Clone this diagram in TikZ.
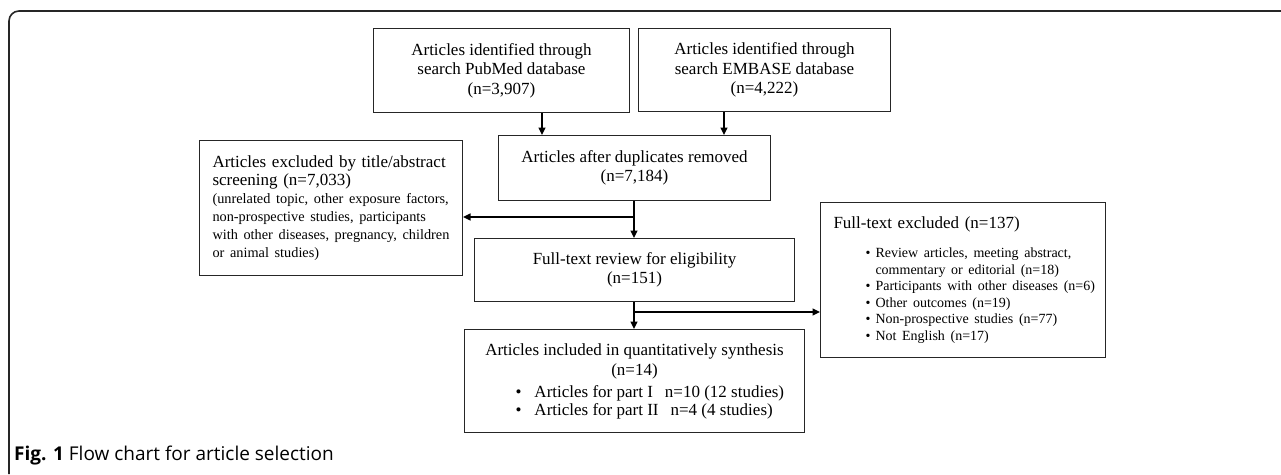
\documentclass[tikz,border=0pt]{standalone}
\usepackage{fontspec}
\setmainfont{Liberation Serif}
\newfontfamily\capfont{Open Sans}
\usetikzlibrary{arrows.meta}
\begin{document}
\begin{tikzpicture}[x=1pt,y=-1pt,
  box/.style={draw=black!85, line width=1pt, inner sep=0pt, anchor=north west, align=center,
    font=\fontsize{17}{19.5}\selectfont},
  lbox/.style={box, align=left, inner xsep=13pt},
  arr/.style={draw=black, line width=1.3pt, -{Triangle[length=7.5pt,width=7pt]}},
  frame/.style={draw=black!85, line width=1.6pt, rounded corners=10pt}]
\useasboundingbox (0,0) rectangle (1281,474);
% frame
\draw[frame] (9,474) -- (9,11) -- (1281,11);
% boxes
\node[box, minimum width=256pt, minimum height=84pt] (pub) at (373,28)
  {Articles identified through\\search PubMed database\\(n=3,907)};
\node[box, minimum width=252pt, minimum height=83pt] (emb) at (638,28)
  {Articles identified through\\search EMBASE database\\(n=4,222)};
\node[box, minimum width=272pt, minimum height=65pt] (dup) at (498,135)
  {Articles after duplicates removed\\(n=7,184)};
\node[lbox, text width=237pt, minimum height=135pt] (excl) at (199,140)
  {\fontsize{17}{18}\selectfont Articles excluded by title/abstract\\screening (n=7,033)\par
   \fontsize{14.3}{18}\selectfont \mbox{(unrelated topic, other exposure factors,}\\
   \mbox{non-prospective studies, participants}\\
   \mbox{with other diseases, pregnancy, children}\\
   \mbox{or animal studies)}\par};
\node[box, minimum width=320pt, minimum height=63pt] (ftr) at (474,238)
  {Full-text review for eligibility\\(n=151)};
\node[box, minimum width=340pt, minimum height=103pt, font=\fontsize{17}{20}\selectfont] (inc) at (464,329)
  {Articles included in quantitatively synthesis\\(n=14)\\[2pt]
   \makebox[340pt][l]{\hspace*{51pt}\makebox[19pt][l]{\textbullet}Articles for part I\hspace{12pt}n=10 (12 studies)}\\[-2pt]
   \makebox[340pt][l]{\hspace*{51pt}\makebox[19pt][l]{\textbullet}Articles for part II\hspace{12pt}n=4 (4 studies)}};
\node[lbox, text width=259pt, minimum height=155pt] (fte) at (820,202)
  {\fontsize{17}{18}\selectfont Full-text excluded (n=137)\par
   \vspace{13pt}
   \fontsize{14}{16.5}\selectfont
   \mbox{\hspace*{32pt}\makebox[10pt][l]{\textbullet}Review articles, meeting abstract,}\\
   \mbox{\hspace*{42pt}commentary or editorial (n=18)}\\
   \mbox{\hspace*{32pt}\makebox[10pt][l]{\textbullet}Participants with other diseases (n=6)}\\
   \mbox{\hspace*{32pt}\makebox[10pt][l]{\textbullet}Other outcomes (n=19)}\\
   \mbox{\hspace*{32pt}\makebox[10pt][l]{\textbullet}Non-prospective studies (n=77)}\\
   \mbox{\hspace*{32pt}\makebox[10pt][l]{\textbullet}Not English (n=17)}\par};
% caption
\node[anchor=base west, inner sep=0pt, font=\capfont\fontsize{19}{22}\selectfont] (cap) at (14,460)
  {\textbf{Fig. 1} Flow chart for article selection};
% connectors
\coordinate (xa) at (542,0);
\coordinate (xb) at (724,0);
\coordinate (j1) at (634,217);
\coordinate (j2) at (634,312);
\draw[arr] (pub.south -| xa) -- (dup.north -| xa);
\draw[arr] (emb.south -| xb) -- (dup.north -| xb);
\draw[arr] (dup.south -| j1) -- (ftr.north -| j1);
\draw[arr] (j1) -- (j1 -| excl.east);
\draw[arr] (ftr.south -| j2) -- (inc.north -| j2);
\draw[arr] (j2) -- (j2 -| fte.west);
\end{tikzpicture}
\end{document}
